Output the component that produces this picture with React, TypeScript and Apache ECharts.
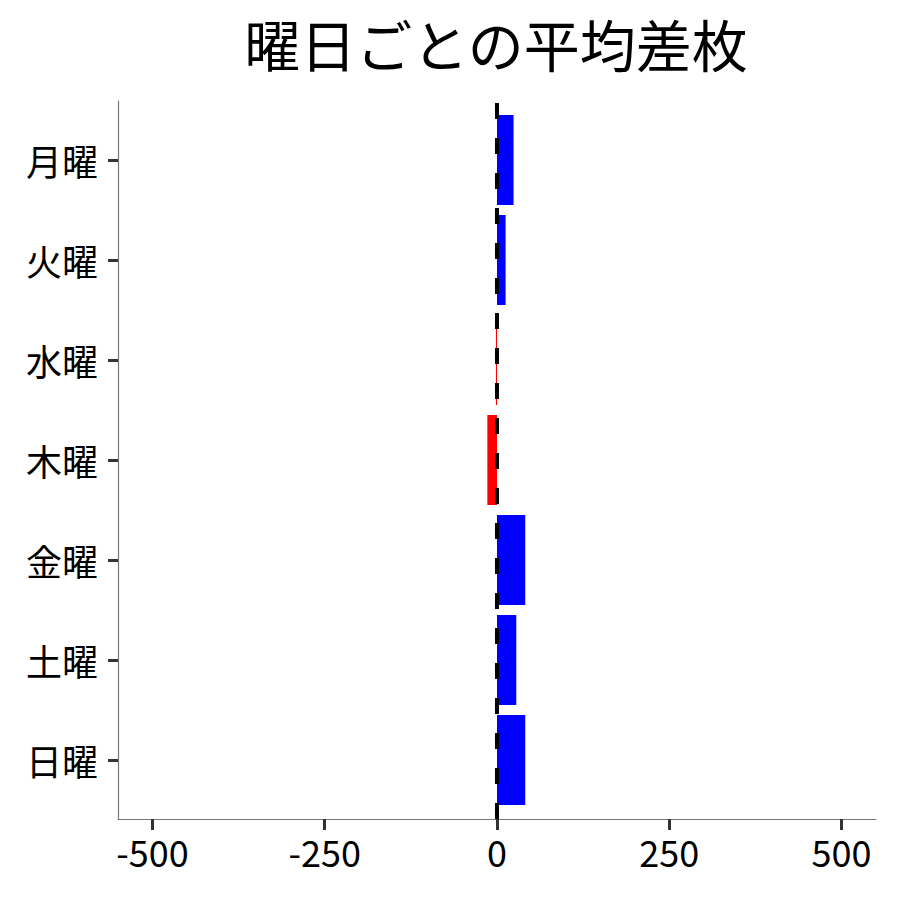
import { useEffect, useRef } from "react";
import * as echarts from "echarts";

/** Weekdays, top to bottom */
const days = ["月曜", "火曜", "水曜", "木曜", "金曜", "土曜", "日曜"];
/** Average difference per weekday */
const avgDiff = [24, 12.5, -1.5, -14, 41, 28, 41];
/** X tick labels */
const xTicks = [-500, -250, 0, 250, 500];
const xMin = -550;
const xMax = 550;

const FONT = "Noto Sans CJK JP";

export default function App() {
  const ref = useRef<HTMLDivElement>(null);
  useEffect(() => {
    document.body.style.margin = "0";
    if (!ref.current) return;
    const chart = echarts.init(ref.current, undefined, { renderer: "svg" });
    chart.setOption({
      animation: false,
      backgroundColor: "#ffffff",
      textStyle: { fontFamily: FONT },
      title: {
        text: "曜日ごとの平均差枚",
        left: 491,
        textAlign: "center",
        top: 9,
        textStyle: { fontFamily: FONT, fontSize: 56, fontWeight: "normal", color: "#000" },
      },
      grid: [
        { left: 118, right: 24, top: 110, bottom: 90 },
        { left: 118, right: 24, top: 101, bottom: 81 },
      ],
      xAxis: [
        {
          gridIndex: 0,
          type: "value",
          min: xMin,
          max: xMax,
          axisLine: { show: false },
          axisTick: { show: false },
          axisLabel: { show: false },
          splitLine: { show: false },
        },
        {
          gridIndex: 1,
          type: "value",
          min: xMin,
          max: xMax,
          axisLine: { show: true, onZero: false, lineStyle: { color: "#777", width: 1.2 } },
          axisTick: { show: true, customValues: xTicks, length: 11, lineStyle: { color: "#333", width: 3 } },
          axisLabel: {
            show: true,
            customValues: xTicks,
            margin: 14,
            fontSize: 36,
            color: "#000",
            fontFamily: FONT,
          },
          splitLine: { show: false },
        },
      ],
      yAxis: [
        {
          gridIndex: 0,
          type: "category",
          data: days,
          inverse: true,
          axisLine: { show: false, onZero: false },
          axisTick: { show: true, alignWithLabel: true, length: 10, lineStyle: { color: "#333", width: 3 } },
          axisLabel: { margin: 20, fontSize: 36, color: "#000", fontFamily: FONT },
        },
        {
          gridIndex: 1,
          type: "value",
          min: 0,
          max: 1,
          axisLine: { show: true, onZero: false, lineStyle: { color: "#777", width: 1.2 } },
          axisTick: { show: false },
          axisLabel: { show: false },
          splitLine: { show: false },
        },
      ],
      series: [
        {
          type: "bar",
          xAxisIndex: 0,
          yAxisIndex: 0,
          barCategoryGap: "10%",
          data: avgDiff.map((v) => ({
            value: v,
            itemStyle: { color: v >= 0 ? "#0000ff" : "#ff0000" },
          })),
        },
        {
          type: "line",
          xAxisIndex: 1,
          yAxisIndex: 1,
          data: [],
          z: 5,
          markLine: {
            silent: true,
            symbol: "none",
            label: { show: false },
            lineStyle: { color: "#000", width: 4, type: [16, 19] },
            data: [{ xAxis: 0 }],
          },
        },
      ],
    });
    return () => chart.dispose();
  }, []);
  return <div ref={ref} style={{ width: 900, height: 900 }} />;
}
